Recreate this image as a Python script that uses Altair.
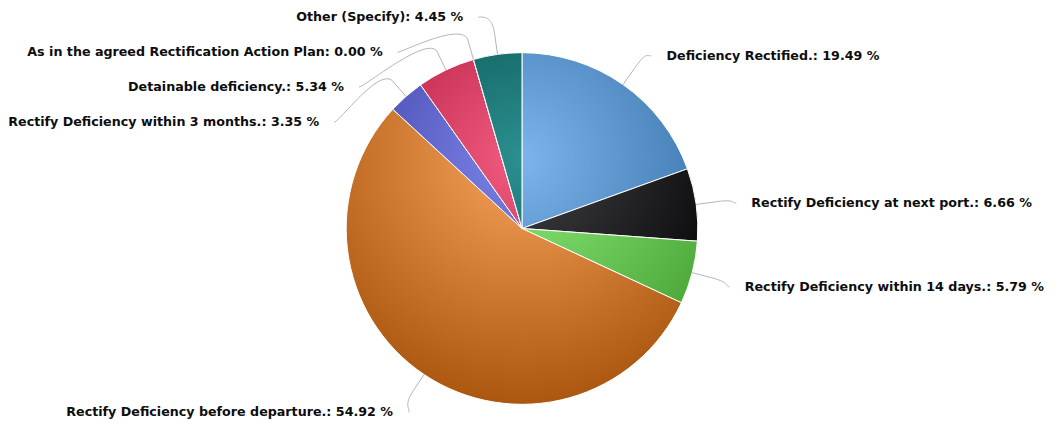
import math
import altair as alt
import pandas as pd

# ---------------- data ----------------
categories = [
    "Deficiency Rectified.",
    "Rectify Deficiency at next port.",
    "Rectify Deficiency within 14 days.",
    "Rectify Deficiency before departure.",
    "Rectify Deficiency within 3 months.",
    "Detainable deficiency.",
    "As in the agreed Rectification Action Plan",
    "Other (Specify)",
]
percentages = [19.49, 6.66, 5.79, 54.92, 3.35, 5.34, 0.00, 4.45]

# ---------------- style ----------------
palette = ["#7cb5ec", "#434348", "#90ed7d", "#f7a35c",
           "#8085e9", "#f15c80", "#e4d354", "#2b908f"]
FONT = "DejaVu Sans"
FONT_SIZE = 12.7
CONNECTOR_COLOR = "#b4b4b4"

# ---------------- layout ----------------
W, H = 1040, 407
CX, CY, R = 513.5, 220.5, 176.0
LABEL_R = 216.0
LABEL_DY = 4.0
LABEL_GAP = 35.0
LABEL_TOP = 9.0
LABEL_BOTTOM = H - 3.0
TEXT_PAD = 15.0
BREAK = 20.0

total = sum(percentages)
starts, ends = [], []
acc = 0.0
for v in percentages:
    starts.append(acc)
    acc += v
    ends.append(acc)

def ang(p):
    return p / total * 2 * math.pi

def pt(a, r=R):
    return (CX + r * math.sin(a), CY - r * math.cos(a))

def darken(hexc, amt=76):
    hexc = hexc.lstrip("#")
    rgb = [max(0, int(hexc[i:i + 2], 16) - amt) for i in (0, 2, 4)]
    return "#%02x%02x%02x" % tuple(rgb)

# gradient per slice, mapped so it acts like one radial gradient on the whole pie
GX, GY, GR = CX, CY - 0.4 * R, 1.4 * R

def slice_gradient(i):
    a0, a1 = ang(starts[i]), ang(ends[i])
    pts = [(CX, CY), pt(a0), pt(a1)]
    for k in range(5):
        q = k * math.pi / 2
        if a0 < q < a1:
            pts.append(pt(q))
    xs = [p[0] for p in pts]
    ys = [p[1] for p in pts]
    x0, x1, y0, y1 = min(xs), max(xs), min(ys), max(ys)
    bw, bh = max(x1 - x0, 1e-3), max(y1 - y0, 1e-3)
    s = max(bw, bh)
    ox = x0 + (bw - s) / 2
    oy = y0 + (bh - s) / 2
    u, v, r = (GX - ox) / s, (GY - oy) / s, GR / s
    return alt.RadialGradient(
        gradient="radial", x1=u, y1=v, r1=0, x2=u, y2=v, r2=r,
        stops=[alt.GradientStop(offset=0, color=palette[i]),
               alt.GradientStop(offset=1, color=darken(palette[i]))],
    )

df = pd.DataFrame({
    "idx": list(range(len(categories))),
    "cat": categories,
    "value": percentages,
    "start": starts,
    "end": ends,
})

# ---------------- label layout (Highcharts-like) ----------------
mids = [ang((s + e) / 2) for s, e in zip(starts, ends)]
ideal = [CY - LABEL_R * math.cos(a) + LABEL_DY for a in mids]
side = ["right" if a < math.pi else "left" for a in mids]

def distribute(ids):
    ids = sorted(ids, key=lambda j: ideal[j])
    clusters = []
    for j in ids:
        clusters.append({"items": [j], "start": ideal[j]})
        while len(clusters) > 1:
            a, b = clusters[-2], clusters[-1]
            if a["start"] + len(a["items"]) * LABEL_GAP > b["start"]:
                items = a["items"] + b["items"]
                st = sum(ideal[m] - k * LABEL_GAP for k, m in enumerate(items)) / len(items)
                clusters = clusters[:-2] + [{"items": items, "start": st}]
            else:
                break
    pos = {}
    for c in clusters:
        n = len(c["items"])
        st = max(LABEL_TOP, min(c["start"], LABEL_BOTTOM - (n - 1) * LABEL_GAP))
        for k, m in enumerate(c["items"]):
            pos[m] = st + k * LABEL_GAP
    return pos

label_y = {}
label_y.update(distribute([j for j in range(len(categories)) if side[j] == "right"]))
label_y.update(distribute([j for j in range(len(categories)) if side[j] == "left"]))

lab_rows, conn_rows = [], []
for j, name in enumerate(categories):
    y = label_y[j]
    dy = y - CY
    xoff = math.sqrt(max(LABEL_R ** 2 - dy ** 2, 0.0))
    sgn = 1 if side[j] == "right" else -1
    anchor = CX + sgn * xoff
    lab_rows.append({"cat": name, "side": side[j], "lx": anchor + sgn * TEXT_PAD, "ly": y,
                     "label": f"{name}: {percentages[j]:.2f} %"})
    a = mids[j]
    touch = pt(a)
    brk = pt(a, R + BREAK)
    p0 = (anchor, y)
    p1 = (anchor - sgn * 5, y)
    p2 = (2 * brk[0] - touch[0], 2 * brk[1] - touch[1])
    p3 = brk
    n = 24
    k = 0
    for s in range(n + 1):
        t = s / n
        bx = ((1 - t) ** 3 * p0[0] + 3 * (1 - t) ** 2 * t * p1[0]
              + 3 * (1 - t) * t ** 2 * p2[0] + t ** 3 * p3[0])
        by = ((1 - t) ** 3 * p0[1] + 3 * (1 - t) ** 2 * t * p1[1]
              + 3 * (1 - t) * t ** 2 * p2[1] + t ** 3 * p3[1])
        conn_rows.append({"cat": name, "k": k, "px": bx, "py": by})
        k += 1
    conn_rows.append({"cat": name, "k": k, "px": touch[0], "py": touch[1]})

lab_df = pd.DataFrame(lab_rows)
conn_df = pd.DataFrame(conn_rows)

# ---------------- chart ----------------
theta_scale = alt.Scale(domain=[0, total], range=[0, 2 * math.pi])

layers = []
for i in range(len(categories)):
    layers.append(
        alt.Chart(df)
        .transform_filter(alt.datum.idx == i)
        .mark_arc(radius=R, fill=slice_gradient(i), stroke="white", strokeWidth=1)
        .encode(
            theta=alt.Theta("start:Q", scale=theta_scale),
            theta2="end:Q",
            x=alt.value(CX),
            y=alt.value(CY),
        )
    )

connectors = alt.Chart(conn_df).mark_line(color=CONNECTOR_COLOR, strokeWidth=1).encode(
    x=alt.X("px:Q", scale=None, axis=None),
    y=alt.Y("py:Q", scale=None, axis=None),
    detail="cat:N",
    order="k:Q",
)

text_common = dict(font=FONT, fontSize=FONT_SIZE, fontWeight="bold", color="#0d0d0d", baseline="middle")
labels_right = alt.Chart(lab_df).transform_filter(alt.datum.side == "right").mark_text(
    align="left", **text_common
).encode(
    x=alt.X("lx:Q", scale=None, axis=None),
    y=alt.Y("ly:Q", scale=None, axis=None),
    text="label:N",
)
labels_left = alt.Chart(lab_df).transform_filter(alt.datum.side == "left").mark_text(
    align="right", **text_common
).encode(
    x=alt.X("lx:Q", scale=None, axis=None),
    y=alt.Y("ly:Q", scale=None, axis=None),
    text="label:N",
)

chart = (
    alt.layer(*layers, connectors, labels_right, labels_left)
    .properties(width=W, height=H, padding=0)
    .configure_view(stroke=None)
)

chart.save("out.html", embed_options={"renderer": "svg", "actions": False})
